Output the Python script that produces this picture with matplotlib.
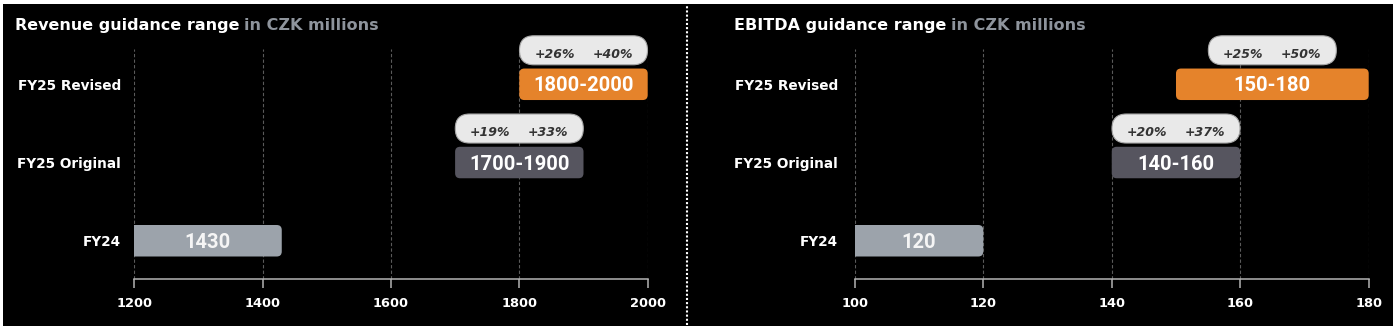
import matplotlib
matplotlib.use("Agg")
import matplotlib.pyplot as plt
from matplotlib.patches import FancyBboxPatch, Rectangle
from matplotlib.lines import Line2D

# Guidance data, CZK millions
categories = ["FY24", "FY25 Original", "FY25 Revised"]

rev_fy24 = 1430
rev_low = [1700, 1800]
rev_high = [1900, 2000]
rev_growth_low = ["+19%", "+26%"]
rev_growth_high = ["+33%", "+40%"]
rev_ticks = [1200, 1400, 1600, 1800, 2000]

ebitda_fy24 = 120
ebitda_low = [140, 150]
ebitda_high = [160, 180]
ebitda_growth_low = ["+20%", "+25%"]
ebitda_growth_high = ["+37%", "+50%"]
ebitda_ticks = [100, 120, 140, 160, 180]

guidance_colors = ["#56555F", "#E5832B"]
fy24_color = "#9CA3AB"
subtitle_color = "#8E949C"

W, H = 1397, 330
fig = plt.figure(figsize=(W / 100, H / 100), dpi=100, facecolor="white")
fig.patches.append(Rectangle((3 / W, 4 / H), 1390 / W, 322 / H, transform=fig.transFigure,
                             facecolor="black", edgecolor="none", zorder=-10))


def rounded_box(ax, x, y, w, h, r_px, px_x, px_y, **kw):
    box = FancyBboxPatch((x, y), w, h,
                         boxstyle=f"round,pad=0,rounding_size={r_px / px_x}",
                         mutation_aspect=px_x / px_y, **kw)
    ax.add_patch(box)
    return box


def draw_panel(ax, title, fy24, low, high, g_low, g_high, ticks, label_pad, title_x):
    ax.set_facecolor("black")
    ax.set_xlim(ticks[0], ticks[-1])
    ax.set_ylim(-0.485, 2.451)

    # pixel size of one data unit in each direction
    p0, p1 = ax.transData.transform([(0, 0), (1, 1)])
    px_x = p1[0] - p0[0]
    px_y = p1[1] - p0[1]
    bh = 31.5 / px_y

    # FY24 bar: flat on the axis side, rounded at the end
    rounded_box(ax, ticks[0] - 10 / px_x, -bh / 2, fy24 - ticks[0] + 10 / px_x, bh, 5,
                px_x, px_y, facecolor=fy24_color, edgecolor="none", zorder=3)
    ax.annotate(str(fy24), xy=((ticks[0] + fy24) / 2, 0), xytext=(0, -1.5),
                textcoords="offset pixels", ha="center", va="center",
                color="#F5F5F5", fontsize=14.5, fontweight="bold", family="Roboto", zorder=4)

    for i, (lo, hi) in enumerate(zip(low, high)):
        y = i + 1
        rounded_box(ax, lo, y - bh / 2, hi - lo, bh, 5, px_x, px_y,
                    facecolor=guidance_colors[i], edgecolor="none", zorder=3)
        ax.annotate(f"{lo}-{hi}", xy=((lo + hi) / 2, y), xytext=(0, -1.5),
                    textcoords="offset pixels", ha="center", va="center",
                    color="white", fontsize=14.5, fontweight="bold", family="Roboto", zorder=4)

        # growth pill above the bar
        cx = (lo + hi) / 2
        cy = y + 34 / px_y
        pw, ph = 128 / px_x, 29 / px_y
        rounded_box(ax, cx - pw / 2, cy - ph / 2, pw, ph, 14.4, px_x, px_y,
                    facecolor="#E9E9E9", edgecolor="#A8A8A8", linewidth=0.8,
                    zorder=3, clip_on=False)
        for txt, dx in [(g_low[i], -29), (g_high[i], 29)]:
            ax.annotate(txt, xy=(cx, cy), xytext=(dx, -4), textcoords="offset pixels",
                        ha="center", va="center", color="#333333", fontsize=9,
                        fontweight="bold", fontstyle="italic", zorder=4,
                        annotation_clip=False)

    for side in ["top", "right", "left"]:
        ax.spines[side].set_visible(False)
    ax.spines["bottom"].set_color("#B4B4B4")
    ax.spines["bottom"].set_linewidth(1.1)

    ax.set_xticks(ticks)
    ax.tick_params(axis="x", length=6.5, width=1.1, color="#B4B4B4", pad=7,
                   labelcolor="white", labelsize=9.4)
    ax.set_yticks([0, 1, 2], categories)
    ax.tick_params(axis="y", length=0, pad=label_pad, labelcolor="white", labelsize=9.8)
    for lbl in ax.get_xticklabels() + ax.get_yticklabels():
        lbl.set_fontweight("bold")

    ax.grid(axis="x", color="#5A5A5A", linestyle=(0, (3, 2)), linewidth=0.8)
    ax.set_axisbelow(True)

    t1 = fig.text(title_x / W, 1 - 30 / H, title, ha="left", va="baseline",
                  color="white", fontsize=11.5, fontweight="bold")
    ax.annotate("in CZK millions", xy=(1, 0), xycoords=t1, xytext=(5, 0),
                textcoords="offset pixels", ha="left", va="bottom",
                color=subtitle_color, fontsize=11.5, fontweight="bold",
                annotation_clip=False)


ax_rev = fig.add_axes([134.1 / W, 51.3 / H, 513.6 / W, 229.7 / H])
ax_ebitda = fig.add_axes([854.8 / W, 51.3 / H, 513.9 / W, 229.7 / H])

draw_panel(ax_rev, "Revenue guidance range", rev_fy24, rev_low, rev_high,
           rev_growth_low, rev_growth_high, rev_ticks, 9.5, 15)
draw_panel(ax_ebitda, "EBITDA guidance range", ebitda_fy24, ebitda_low, ebitda_high,
           ebitda_growth_low, ebitda_growth_high, ebitda_ticks, 12, 734)

# dotted divider between the two panels
fig.add_artist(Line2D([686.5 / W, 686.5 / W], [5 / H, 325 / H], transform=fig.transFigure,
                      color="white", linewidth=1.5, linestyle=(0, (1, 1))))

fig.savefig("out.png", dpi=100, facecolor=fig.get_facecolor())
